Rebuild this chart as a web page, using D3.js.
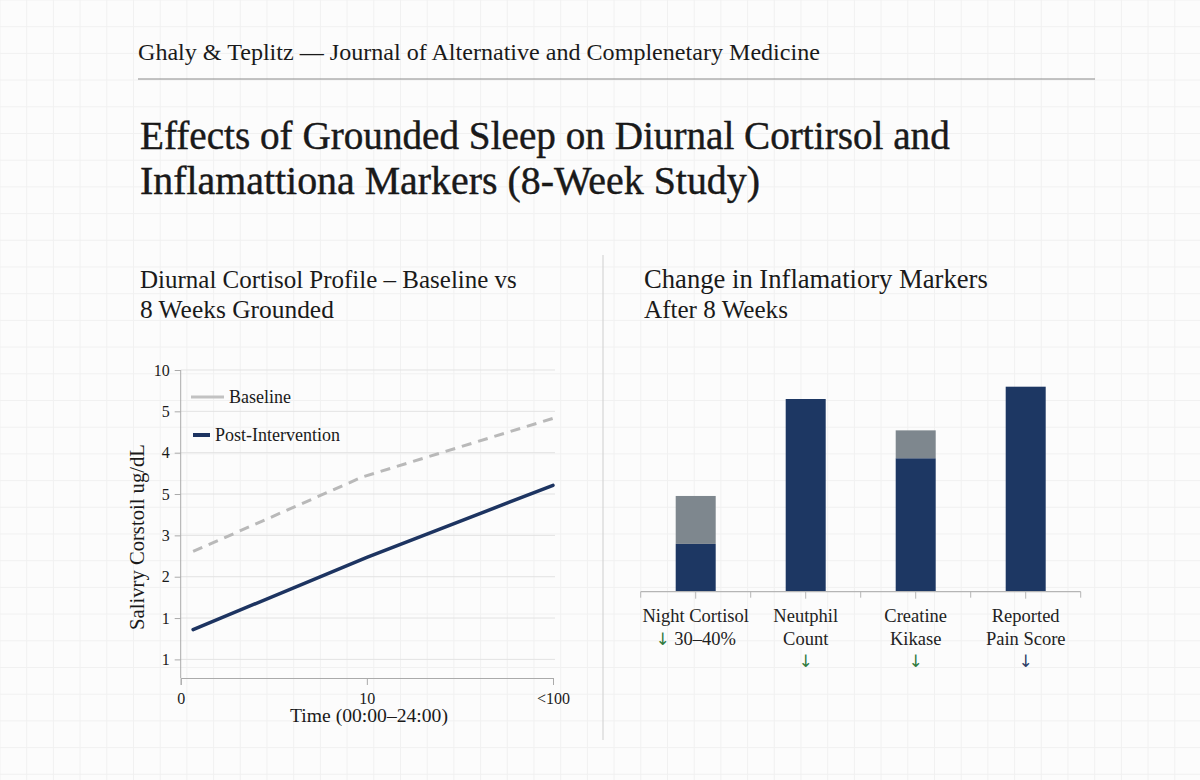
<!DOCTYPE html>
<html>
<head>
<meta charset="utf-8">
<script src="https://cdn.jsdelivr.net/npm/d3@7/dist/d3.min.js"></script>
<style>
  html, body { margin: 0; padding: 0; background: #fcfcfc; }
  svg { display: block; }
  text { font-family: "Liberation Serif", "DejaVu Serif", serif; fill: #1a1a1a; }
</style>
</head>
<body>
<svg id="chart" width="1200" height="780"></svg>
<script>
// ---------------- DATA ----------------
const headerText = "Ghaly & Teplitz — Journal of Alternative and Complenetary Medicine";
const titleLines = ["Effects of Grounded Sleep on Diurnal Cortirsol and", "Inflamattiona Markers (8-Week Study)"];
const leftSubtitle = ["Diurnal Cortisol Profile – Baseline vs", "8 Weeks Grounded"];
const rightSubtitle = ["Change in Inflamatiory Markers", "After 8 Weeks"];

// Line chart (y values are in axis tick-position units as drawn)
const seriesNames = ["Baseline", "Post-Intervention"];
const baselineTime = [0.8, 11.7, 24];
const baselineValues = [2.61, 4.41, 5.83];
const postTime = [0.8, 12, 24];
const postValues = [0.72, 2.47, 4.21];
const yTickPositions = [0, 1, 2, 3, 4, 5, 6, 7];
const yTickLabels = ["1", "1", "2", "3", "5", "4", "5", "10"];
const xTickValues = [0, 12, 24];
const xTickLabels = ["0", "10", "<100"];
const xAxisTitle = "Time (00:00–24:00)";
const yAxisTitle = "Salivry Corstoil ug/dL";

// Bar chart
const barCategories = ["Night Cortisol", "Neutphil Count", "Creatine Kikase", "Reported Pain Score"];
const barLabelLines = [["Night Cortisol", "↓ 30–40%"], ["Neutphil", "Count", "↓"], ["Creatine", "Kikase", "↓"], ["Reported", "Pain Score", "↓"]];
const barPostValues = [23.3, 94.0, 65.1, 100];
const barReductionValues = [23.4, 0, 13.6, 0];

// ---------------- DRAW ----------------
const svg = d3.select("#chart");
const W = 1200, H = 780;

// background faint grid
const bg = svg.append("g");
bg.append("rect").attr("width", W).attr("height", H).attr("fill", "#fcfcfc");
const gridStep = 26.7;
bg.selectAll("line.v").data(d3.range(0, W, gridStep)).join("line")
  .attr("x1", d => d).attr("x2", d => d).attr("y1", 0).attr("y2", H)
  .attr("stroke", "#f1f1f1").attr("stroke-width", 1);
bg.selectAll("line.h").data(d3.range(0, H, gridStep)).join("line")
  .attr("y1", d => d).attr("y2", d => d).attr("x1", 0).attr("x2", W)
  .attr("stroke", "#f1f1f1").attr("stroke-width", 1);

function fitText(sel, size, target) {
  sel.attr("font-size", size);
  const w = sel.node().getComputedTextLength();
  if (w > 0) sel.attr("font-size", size * target / w);
  return sel;
}

// header
fitText(svg.append("text").attr("x", 138).attr("y", 60).attr("fill", "#222").text(headerText), 22, 682);
svg.append("line").attr("x1", 138).attr("x2", 1095).attr("y1", 79).attr("y2", 79)
  .attr("stroke", "#8a8a8a").attr("stroke-width", 1.2);

// title
fitText(svg.append("text").attr("x", 140).attr("y", 149).attr("fill", "#111")
  .attr("stroke", "#111").attr("stroke-width", 0.4).text(titleLines[0]), 38, 810);
fitText(svg.append("text").attr("x", 140).attr("y", 194).attr("fill", "#111")
  .attr("stroke", "#111").attr("stroke-width", 0.4).text(titleLines[1]), 38, 620);

// subtitles
fitText(svg.append("text").attr("x", 140).attr("y", 288).text(leftSubtitle[0]), 22, 377);
fitText(svg.append("text").attr("x", 140).attr("y", 318).text(leftSubtitle[1]), 22, 194);
fitText(svg.append("text").attr("x", 644).attr("y", 288).text(rightSubtitle[0]), 22, 344);
fitText(svg.append("text").attr("x", 644).attr("y", 318).text(rightSubtitle[1]), 22, 144);

// divider
svg.append("line").attr("x1", 603).attr("x2", 603).attr("y1", 255).attr("y2", 740)
  .attr("stroke", "#d6d6d6").attr("stroke-width", 1.2);

// ---------- Line chart ----------
const lx = d3.scaleLinear().domain([0, 24]).range([180.7, 553]);
const ly = d3.scaleLinear().domain([-0.45, 7]).range([678, 370]);

const lg = svg.append("g");
// gridlines
lg.selectAll("line.grid").data(yTickPositions).join("line")
  .attr("x1", lx(0)).attr("x2", 555)
  .attr("y1", d => ly(d)).attr("y2", d => ly(d))
  .attr("stroke", "#e3e3e3").attr("stroke-width", 1);

const yAxis = d3.axisLeft(ly).tickValues(yTickPositions)
  .tickFormat((d, i) => yTickLabels[i]).tickSize(6).tickPadding(5);
const yg = lg.append("g").attr("transform", `translate(${lx(0)},0)`).call(yAxis);
yg.select(".domain").attr("d", `M-0,${ly(7)}V${ly(-0.45)}`).attr("stroke", "#aaaaaa");
yg.selectAll(".tick line").attr("stroke", "#aaaaaa");
yg.selectAll(".tick text").attr("font-size", 16).attr("fill", "#333")
  .style("font-family", '"Liberation Serif", serif');

const xAxis = d3.axisBottom(lx).tickValues(xTickValues)
  .tickFormat((d, i) => xTickLabels[i]).tickSize(7).tickPadding(8);
const xg = lg.append("g").attr("transform", `translate(0,${ly(-0.45)})`).call(xAxis);
xg.select(".domain").attr("stroke", "#aaaaaa");
xg.selectAll(".tick line").attr("stroke", "#aaaaaa");
xg.selectAll(".tick text").attr("font-size", 16).attr("fill", "#333")
  .style("font-family", '"Liberation Serif", serif');

fitText(lg.append("text").attr("x", 369).attr("y", 722).attr("text-anchor", "middle")
  .text(xAxisTitle), 18, 158);
fitText(lg.append("text").attr("transform", "translate(144,537) rotate(-90)")
  .attr("text-anchor", "middle").text(yAxisTitle), 18, 186);

const line = d3.line().x(d => lx(d[0])).y(d => ly(d[1]));
lg.append("path").datum(baselineTime.map((t, i) => [t, baselineValues[i]]))
  .attr("d", line).attr("fill", "none").attr("stroke", "#b9b9b9")
  .attr("stroke-width", 3).attr("stroke-dasharray", "10,7");
lg.append("path").datum(postTime.map((t, i) => [t, postValues[i]]))
  .attr("d", line).attr("fill", "none").attr("stroke", "#1d3461")
  .attr("stroke-width", 3.5).attr("stroke-linecap", "round");

// legend
const legendStyles = [
  { x1: 191, x2: 224, y: 397, color: "#c2c2c2", w: 3, tx: 229 },
  { x1: 193, x2: 210, y: 435, color: "#1d3461", w: 4, tx: 215 }
];
seriesNames.forEach((name, i) => {
  const s = legendStyles[i];
  lg.append("line").attr("x1", s.x1).attr("x2", s.x2).attr("y1", s.y).attr("y2", s.y)
    .attr("stroke", s.color).attr("stroke-width", s.w);
  lg.append("text").attr("x", s.tx).attr("y", s.y + 6).attr("font-size", 18).attr("fill", "#333").text(name);
});

// ---------- Bar chart ----------
const bx = d3.scaleBand().domain(barCategories).range([640.7, 1080.7])
  .paddingInner(70 / 110).paddingOuter(35 / 110);
const by = d3.scaleLinear().domain([0, 100]).range([591.7, 386.7]);
const bgp = svg.append("g");

bgp.selectAll("rect.post").data(barCategories).join("rect")
  .attr("x", d => bx(d)).attr("width", bx.bandwidth())
  .attr("y", (d, i) => by(barPostValues[i]))
  .attr("height", (d, i) => by(0) - by(barPostValues[i]))
  .attr("fill", "#1d3763");
bgp.selectAll("rect.red").data(barCategories.filter((d, i) => barReductionValues[i] > 0)).join("rect")
  .attr("x", d => bx(d)).attr("width", bx.bandwidth())
  .attr("y", d => { const i = barCategories.indexOf(d); return by(barPostValues[i] + barReductionValues[i]); })
  .attr("height", d => { const i = barCategories.indexOf(d); return by(barPostValues[i]) - by(barPostValues[i] + barReductionValues[i]); })
  .attr("fill", "#7e878e");

// axis line with ticks at band edges and centers
const step = bx.step();
const edgeTicks = d3.range(barCategories.length + 1).map(i => 640.7 + i * step);
bgp.append("line").attr("x1", 640.7).attr("x2", 1080.7).attr("y1", by(0)).attr("y2", by(0))
  .attr("stroke", "#b5b5b5").attr("stroke-width", 1.2);
bgp.selectAll("line.et").data(edgeTicks).join("line")
  .attr("x1", d => d).attr("x2", d => d).attr("y1", by(0)).attr("y2", by(0) + 6)
  .attr("stroke", "#b5b5b5");
bgp.selectAll("line.ct").data(barCategories).join("line")
  .attr("x1", d => bx(d) + bx.bandwidth() / 2).attr("x2", d => bx(d) + bx.bandwidth() / 2)
  .attr("y1", by(0)).attr("y2", by(0) + 7).attr("stroke", "#b5b5b5");

const arrowColors = ["#2f7a3e", "#2f7a3e", "#2f7a3e", "#2c3e66"];
barCategories.forEach((c, i) => {
  const cx = bx(c) + bx.bandwidth() / 2;
  barLabelLines[i].forEach((ln, j) => {
    const t = bgp.append("text").attr("x", cx).attr("y", 622 + j * 22.5)
      .attr("text-anchor", "middle").attr("font-size", 18.5).attr("fill", "#222");
    const parts = ln.split(/(↓)/).filter(p => p.length);
    parts.forEach(p => {
      t.append("tspan").text(p).attr("fill", p === "↓" ? arrowColors[i] : "#222")
        .style("font-family", p === "↓" ? '"DejaVu Sans", sans-serif' : null)
        .attr("font-size", p === "↓" ? 17 : null);
    });
  });
});
</script>
</body>
</html>
